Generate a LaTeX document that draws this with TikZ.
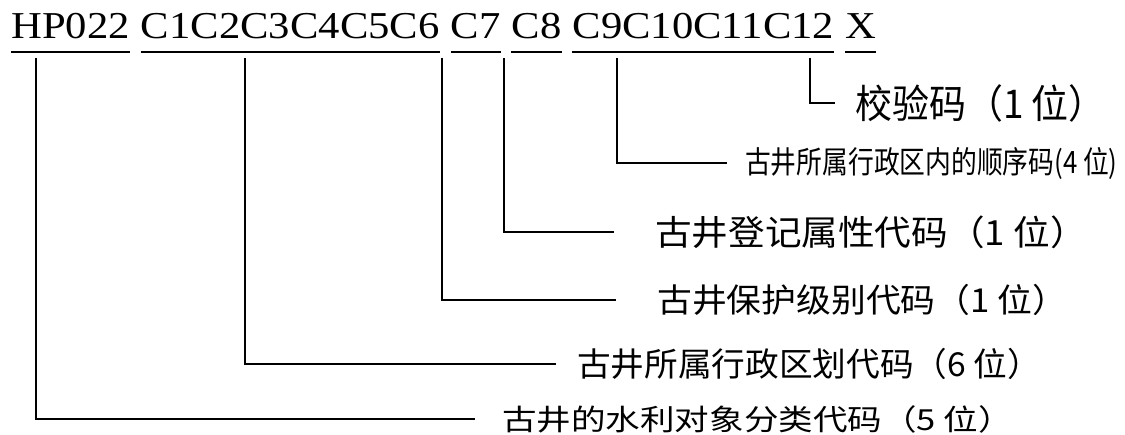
\documentclass[tikz,border=0pt]{standalone}
\usepackage{fontspec}
\setmainfont{Liberation Serif}
\newfontfamily\cjk{Noto Sans CJK SC}
\usetikzlibrary{positioning}

\newcommand{\codepart}[1]{\scalebox{1.123}[1]{#1}}
\newcommand{\labtext}[3]{\scalebox{#1}[#2]{#3}}

\begin{document}
\begin{tikzpicture}[x=1pt, y=-1pt, node distance=10.7pt,
  part/.style={inner sep=0pt, font=\fontsize{38}{40}\selectfont},
  lab/.style={inner sep=0pt, anchor=west, font=\cjk\fontsize{33}{36}\selectfont},
  link/.style={line width=1.3pt}]
\useasboundingbox (0,0) rectangle (1125,434);
% the code
\node[part, anchor=base west] (hp) at (11,38.3) {\codepart{HP022}};
\node[part, base right=of hp] (c16) {\codepart{C1C2C3C4C5C6}};
\node[part, base right=of c16] (c7) {\codepart{C7}};
\node[part, base right=of c7] (c8) {\codepart{C8}};
\node[part, base right=of c8] (c912) {\codepart{C9C10C11C12}};
\node[part, base right=of c912] (x) {\codepart{X}};
\foreach \w in {hp, c16, c7, c8, c912, x}
  \draw[line width=2pt] ([yshift=-13.2pt]\w.base west) -- ([yshift=-13.2pt]\w.base east);
% meanings
\node[lab] (lab1) at (855,103) {\labtext{1.12}{1.2}{校验码（1 位）}};
\node[lab] (lab2) at (745,163) {\labtext{0.92}{1.1}{\fontsize{28}{30}\selectfont 古井所属行政区内的顺序码(4 位)}};
\node[lab] (lab3) at (655,232) {\labtext{1.11}{1.05}{古井登记属性代码（1 位）}};
\node[lab] (lab4) at (657,300) {\labtext{1.055}{1}{古井保护级别代码（1 位）}};
\node[lab] (lab5) at (577,364) {\labtext{1.02}{1}{古井所属行政区划代码（6 位）}};
\node[lab] (lab6) at (502,419) {\labtext{1.047}{0.88}{古井的水利对象分类代码（5 位）}};
% ticks under the code
\coordinate (t1) at (810,58);
\coordinate (t2) at (617,58);
\coordinate (t3) at (504,58);
\coordinate (t4) at (442,58);
\coordinate (t5) at (245,58);
\coordinate (t6) at (36,58);
\draw[link, shorten >=20pt] (t1) |- (lab1.west);
\draw[link, shorten >=18pt] (t2) |- (lab2.west);
\draw[link, shorten >=41pt] (t3) |- (lab3.west);
\draw[link, shorten >=41pt] (t4) |- (lab4.west);
\draw[link, shorten >=21pt] (t5) |- (lab5.west);
\draw[link, shorten >=27pt] (t6) |- (lab6.west);
\end{tikzpicture}
\end{document}
